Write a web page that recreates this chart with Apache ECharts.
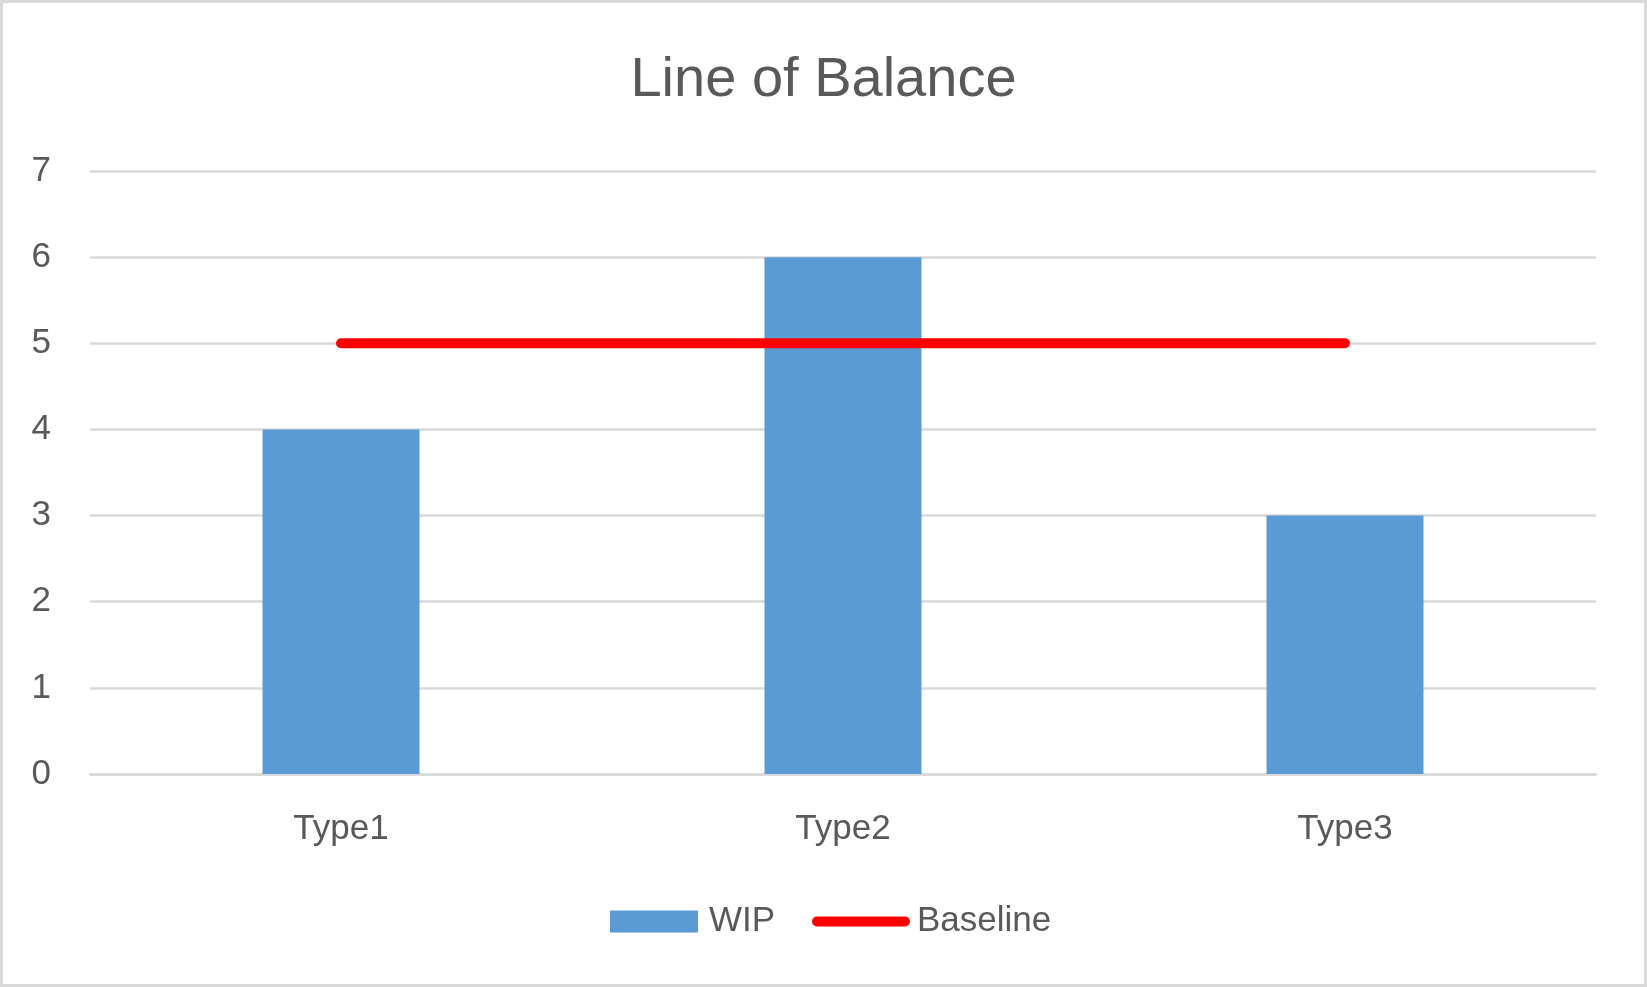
<!DOCTYPE html>
<html>
<head>
<meta charset="utf-8">
<script src="https://cdn.jsdelivr.net/npm/echarts@6/dist/echarts.min.js"></script>
<style>
html,body{margin:0;padding:0;background:#fff;}
#main{width:1647px;height:987px;}
</style>
</head>
<body>
<div id="main"></div>
<script>
const categories = ['Type1', 'Type2', 'Type3'];
const wipValues = [4, 6, 3];
const baselineValues = [5, 5, 5];
const yTicks = [0, 1, 2, 3, 4, 5, 6, 7];

const FONT = '"Liberation Sans", Arial, sans-serif';
const TXT = '#595959';

const chart = echarts.init(document.getElementById('main'), null, {renderer: 'canvas'});
chart.setOption({
  backgroundColor: '#ffffff',
  animation: false,
  title: {
    text: 'Line of Balance',
    left: 'center',
    top: 53,
    padding: 0,
    textStyle: {fontFamily: FONT, fontSize: 56, fontWeight: 'normal', color: TXT}
  },
  graphic: [{
    type: 'rect',
    shape: {x: 1.5, y: 1.5, width: 1644, height: 984},
    style: {fill: 'none', stroke: '#d9d9d9', lineWidth: 3},
    silent: true
  }],
  legend: [{
    data: [{name: 'WIP', icon: 'rect'}],
    left: 610,
    top: 904,
    padding: 0,
    itemWidth: 88,
    itemHeight: 22,
    textStyle: {fontFamily: FONT, fontSize: 35, color: TXT, padding: [0, 0, 0, 6]}
  }, {
    data: [{name: 'Baseline', icon: 'path://M5,0H93A5,5,0,0,1,93,10H5A5,5,0,0,1,5,0Z'}],
    left: 812,
    top: 904,
    padding: 0,
    itemWidth: 98,
    itemHeight: 10,
    itemStyle: {color: '#ff0000'},
    textStyle: {fontFamily: FONT, fontSize: 35, color: TXT, padding: [0, 0, 0, 2]}
  }],
  grid: {left: 90, right: 51, top: 171, bottom: 213, containLabel: false},
  xAxis: {
    type: 'category',
    data: categories,
    axisLine: {show: true, lineStyle: {color: '#d9d9d9', width: 2.5}},
    axisTick: {show: false},
    axisLabel: {fontFamily: FONT, fontSize: 35, color: TXT, margin: 38}
  },
  yAxis: {
    type: 'value',
    min: yTicks[0],
    max: yTicks[yTicks.length - 1],
    interval: 1,
    axisLine: {show: false},
    axisTick: {show: false},
    splitLine: {lineStyle: {color: '#d9d9d9', width: 2.5}},
    axisLabel: {fontFamily: FONT, fontSize: 35, color: TXT, margin: 39}
  },
  series: [{
    name: 'WIP',
    type: 'bar',
    data: wipValues,
    barWidth: 157,
    itemStyle: {color: '#5b9bd5'}
  }, {
    name: 'Baseline',
    type: 'line',
    data: baselineValues,
    symbol: 'none',
    lineStyle: {color: '#ff0000', width: 10, cap: 'round'},
    itemStyle: {color: '#ff0000'}
  }]
});
</script>
</body>
</html>
